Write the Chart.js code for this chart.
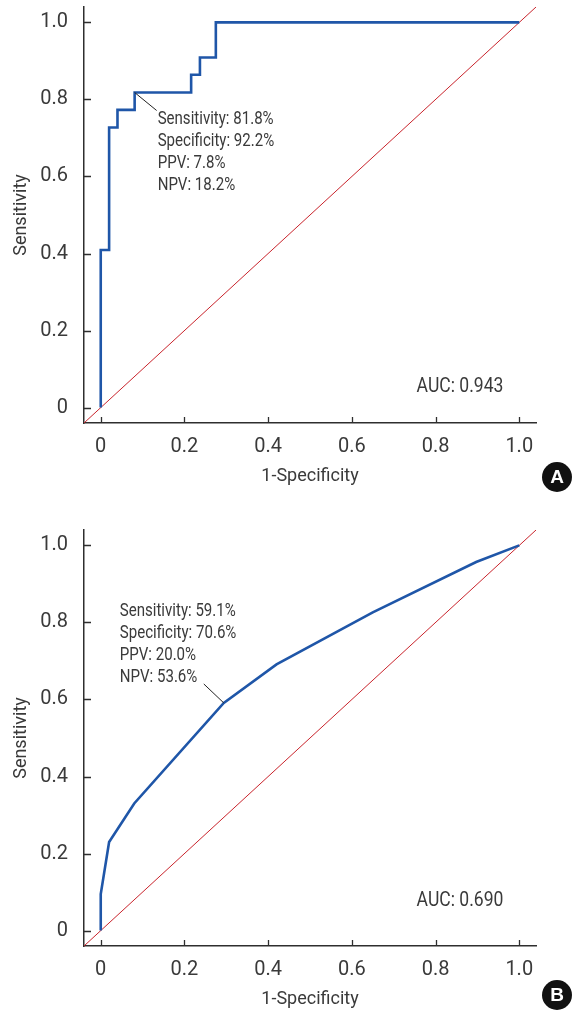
<!DOCTYPE html>
<html>
<head>
<meta charset="utf-8">
<script src="https://cdn.jsdelivr.net/npm/chart.js@4.4.1/dist/chart.umd.min.js"></script>
<style>
  html, body { margin: 0; padding: 0; background: #fff; overflow: hidden; }
  .panel { position: absolute; left: 0; width: 574px; height: 505px; }
  #panelA { top: 0; }
  #panelB { top: 523px; }
</style>
</head>
<body>
<div class="panel" id="panelA"><canvas id="rocA" width="574" height="505"></canvas></div>
<div class="panel" id="panelB"><canvas id="rocB" width="574" height="505"></canvas></div>
<script>
// --- data ---
// panel A: step ROC curve (1-specificity, sensitivity)
const fprA = [0, 0, 0.02, 0.04, 0.081, 0.216, 0.237, 0.275, 1];
const tprA = [0, 0.409, 0.727, 0.773, 0.818, 0.864, 0.909, 1, 1];
// panel B
const fprB = [0, 0, 0.02, 0.08, 0.294, 0.42, 0.65, 0.897, 1];
const tprB = [0, 0.095, 0.23, 0.33, 0.591, 0.691, 0.826, 0.957, 1];

const tickValues = [0, 0.2, 0.4, 0.6, 0.8, 1.0];
const tickLabels = ['0', '0.2', '0.4', '0.6', '0.8', '1.0'];

const cutoffA = [0.081, 0.818];
const cutoffB = [0.294, 0.591];
const statsA = ['Sensitivity: 81.8%', 'Specificity: 92.2%', 'PPV: 7.8%', 'NPV: 18.2%'];
const statsB = ['Sensitivity: 59.1%', 'Specificity: 70.6%', 'PPV: 20.0%', 'NPV: 53.6%'];
const aucA = 'AUC: 0.943';
const aucB = 'AUC: 0.690';

const AX_MIN = -0.04, AX_MAX = 1.04;
const FONT = "Roboto, 'Liberation Sans', sans-serif";
const TEXT = '#3a3a3a';
const AXIS = '#2e2e2e';

Chart.defaults.font.family = FONT;
Chart.defaults.color = TEXT;

// condensed-looking text (the original uses a narrow face)
function narrowText(ctx, str, x, y, sx) {
  ctx.save();
  ctx.translate(x, y);
  ctx.scale(sx, 1);
  ctx.fillText(str, 0, 0);
  ctx.restore();
}

// inward ticks, leader line + stats, AUC, panel badge
const rocDecor = {
  id: 'rocDecor',
  afterDraw(chart, args, o) {
    const {ctx, chartArea: ca, scales: {x, y}} = chart;
    ctx.save();
    ctx.strokeStyle = AXIS;
    ctx.lineWidth = 1.3;
    ctx.beginPath();
    x.ticks.forEach(t => {
      const px = Math.round(x.getPixelForValue(t.value)) + 0.5;
      ctx.moveTo(px, ca.bottom);
      ctx.lineTo(px, ca.bottom - 6);
    });
    y.ticks.forEach(t => {
      const py = Math.round(y.getPixelForValue(t.value)) + 0.5;
      ctx.moveTo(ca.left, py);
      ctx.lineTo(ca.left + 7, py);
    });
    ctx.stroke();

    // leader line from cutoff point to the stats text
    const cx = x.getPixelForValue(o.cutoff[0]);
    const cy = y.getPixelForValue(o.cutoff[1]);
    ctx.strokeStyle = '#222';
    ctx.lineWidth = 1;
    ctx.beginPath();
    ctx.moveTo(cx, cy);
    ctx.lineTo(cx + o.lead[0], cy + o.lead[1]);
    ctx.stroke();

    ctx.fillStyle = TEXT;
    ctx.font = '17.5px ' + FONT;
    ctx.textAlign = 'left';
    ctx.textBaseline = 'middle';
    o.stats.forEach((s, i) => {
      narrowText(ctx, s, cx + o.text[0], cy + o.text[1] + i * 22, 0.86);
    });

    ctx.font = '19.5px ' + FONT;
    ctx.textAlign = 'center';
    narrowText(ctx, o.auc, ca.right - 76, ca.bottom - o.aucDy, 0.9);

    // badge
    ctx.fillStyle = '#111';
    ctx.beginPath();
    ctx.arc(557, o.badgeY, 15, 0, Math.PI * 2);
    ctx.fill();
    ctx.fillStyle = '#fff';
    ctx.font = "bold 19px 'Liberation Sans', Arial, sans-serif";
    ctx.fillText(o.badge, 557, o.badgeY + 1);
    ctx.restore();
  }
};

function makeRoc(id, fpr, tpr, decor) {
  const curve = fpr.map((v, i) => ({x: v, y: tpr[i]}));
  return new Chart(document.getElementById(id), {
    type: 'line',
    data: {
      datasets: [
        {
          data: curve,
          borderColor: '#1f56a8',
          borderWidth: 2.6,
          pointRadius: 0,
          stepped: decor.stepped,
          tension: 0,
          fill: false
        },
        {
          data: [{x: AX_MIN, y: AX_MIN}, {x: AX_MAX, y: AX_MAX}],
          borderColor: '#c9242c',
          borderWidth: 1,
          pointRadius: 0,
          fill: false
        }
      ]
    },
    options: {
      responsive: false,
      animation: false,
      events: [],
      layout: {padding: {left: 0, top: 7, right: 38, bottom: 0}},
      plugins: {
        legend: {display: false},
        tooltip: {enabled: false},
        rocDecor: decor
      },
      scales: {
        x: {
          type: 'linear',
          min: AX_MIN,
          max: AX_MAX,
          afterBuildTicks: s => { s.ticks = tickValues.map(v => ({value: v})); },
          afterFit: s => { s.height = 82; s.paddingLeft = 0; s.paddingRight = 0; },
          border: {display: true, color: AXIS, width: 1.5},
          grid: {drawOnChartArea: false, drawTicks: false},
          ticks: {
            padding: 12,
            color: TEXT,
            font: {size: 20},
            maxRotation: 0,
            callback: v => tickLabels[tickValues.indexOf(v)]
          },
          title: {display: true, text: '1-Specificity', color: TEXT, font: {size: 18}, padding: {top: 0, bottom: 18}}
        },
        y: {
          type: 'linear',
          min: AX_MIN,
          max: AX_MAX,
          afterBuildTicks: s => { s.ticks = tickValues.map(v => ({value: v})); },
          afterFit: s => { s.width = 84; s.paddingTop = 0; s.paddingBottom = 0; },
          border: {display: true, color: AXIS, width: 1.5},
          grid: {drawOnChartArea: false, drawTicks: false},
          ticks: {
            padding: 16,
            color: TEXT,
            font: {size: 20},
            callback: v => tickLabels[tickValues.indexOf(v)]
          },
          title: {display: true, text: 'Sensitivity', color: TEXT, font: {size: 18}, padding: {top: 11, bottom: 0}}
        }
      }
    },
    plugins: [rocDecor]
  });
}

makeRoc('rocA', fprA, tprA, {
  stepped: 'before',
  cutoff: cutoffA,
  lead: [22, 18],
  text: [23, 27],
  stats: statsA,
  auc: aucA,
  aucDy: 36,
  badge: 'A',
  badgeY: 477
});

makeRoc('rocB', fprB, tprB, {
  stepped: false,
  cutoff: cutoffB,
  lead: [-20, -19],
  text: [-104, -91],
  stats: statsB,
  auc: aucB,
  aucDy: 45,
  badge: 'B',
  badgeY: 472
});
</script>
</body>
</html>
